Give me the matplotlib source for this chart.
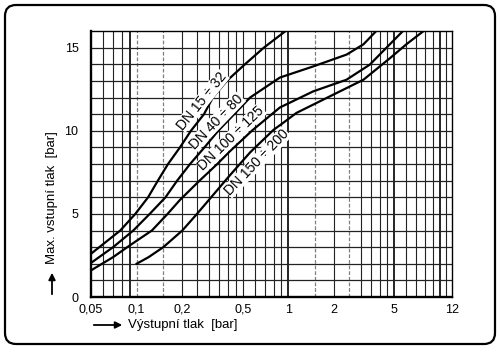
import matplotlib
matplotlib.use("Agg")
import matplotlib.pyplot as plt
from matplotlib.patches import FancyBboxPatch
from matplotlib.transforms import IdentityTransform

plt.rcParams['font.family'] = ['Liberation Sans', 'DejaVu Sans']

# ---- data ----
c1_x = [0.05, 0.078, 0.098, 0.119, 0.138, 0.161, 0.193, 0.228, 0.278, 0.318, 0.393, 0.518, 0.69, 0.96]
c1_y = [2.6, 4, 5, 6, 7, 8, 9, 10, 11, 12, 13, 14, 15, 16]
c2_x = [0.05, 0.07, 0.095, 0.122, 0.155, 0.185, 0.225, 0.28, 0.345, 0.44, 0.56, 0.88, 1.46, 2.42, 3.13, 3.8]
c2_y = [2.05, 3, 4, 5, 6, 7, 8, 9, 10, 11, 12, 13.2, 13.87, 14.58, 15.2, 16]
c3_x = [0.05, 0.07, 0.09, 0.126, 0.16, 0.193, 0.26, 0.34, 0.41, 0.58, 0.88, 1.46, 2.42, 3.45, 4.0, 5.7]
c3_y = [1.6, 2.4, 3.1, 4, 5, 5.84, 7, 8, 8.75, 10.03, 11.4, 12.37, 13.07, 13.98, 14.58, 16]
c4_x = [0.1, 0.12, 0.15, 0.2, 0.25, 0.31, 0.41, 0.56, 0.8, 0.92, 1.13, 1.88, 3.13, 4.7, 6.0, 7.8]
c4_y = [2.0, 2.4, 3.0, 4.0, 5.0, 6.0, 7.3, 8.7, 10.06, 10.46, 11.07, 12.07, 13.07, 14.38, 15.2, 16]

series_names = ["DN 15 ÷ 32", "DN 40 ÷ 80", "DN 100 ÷ 125", "DN 150 ÷ 200"]
label_x = [0.27, 0.335, 0.42, 0.62]
label_y = [11.8, 10.55, 9.55, 8.1]
label_rot = [51, 46, 44, 46]

x_ticks = [0.05, 0.1, 0.2, 0.5, 1, 2, 5, 12]
x_tick_labels = ["0,05", "0,1", "0,2", "0,5", "1", "2", "5", "12"]
y_ticks = [0, 5, 10, 15]
y_tick_labels = ["0", "5", "10", "15"]
v_grid = [0.06, 0.07, 0.08, 0.09, 0.1, 0.15, 0.2, 0.25, 0.3, 0.35, 0.4, 0.45, 0.5,
          0.6, 0.7, 0.8, 0.9, 1, 1.5, 2, 2.5, 3, 3.5, 4, 4.5, 5, 6, 7, 8, 9, 10, 11]
v_grid_light = [0.1, 0.15, 1.5, 2.5]
v_grid_heavy = [0.09, 1, 5, 10]
h_grid = list(range(1, 16))

W, H = 500, 356
fig = plt.figure(figsize=(W / 100, H / 100), dpi=100)
ax = fig.add_axes([91 / W, 1 - 297 / H, (452 - 91) / W, (297 - 31) / H])
ax.set_xscale('log')
ax.set_xlim(0.05, 12)
ax.set_ylim(0, 16)

for v in v_grid:
    if v in v_grid_light:
        ax.axvline(v, color='#808080', lw=0.9, ls=(0, (3, 1.5)), zorder=1)
    elif v in v_grid_heavy:
        ax.axvline(v, color='black', lw=1.2, zorder=1)
    else:
        ax.axvline(v, color='#222222', lw=0.8, zorder=1)
for h in h_grid:
    ax.axhline(h, color='#222222', lw=0.9, zorder=1)

for xs, ys in [(c1_x, c1_y), (c2_x, c2_y), (c3_x, c3_y), (c4_x, c4_y)]:
    ax.plot(xs, ys, color='black', lw=1.6, zorder=3, solid_joinstyle='round')

for name, lx, ly, r in zip(series_names, label_x, label_y, label_rot):
    ax.text(lx, ly, name, rotation=r, ha='center', va='center', fontsize=10,
            rotation_mode='anchor', zorder=4,
            bbox=dict(facecolor='white', edgecolor='none', pad=0.2))

ax.set_xticks(x_ticks)
ax.set_xticklabels(x_tick_labels)
ax.xaxis.set_minor_locator(matplotlib.ticker.NullLocator())
ax.set_yticks(y_ticks)
ax.set_yticklabels(y_tick_labels)
ax.tick_params(axis='both', length=0, labelsize=9)
ax.tick_params(axis='x', pad=5)
ax.tick_params(axis='y', pad=9)
for s in ['left', 'bottom']:
    ax.spines[s].set_linewidth(1.7)
for s in ['top', 'right']:
    ax.spines[s].set_linewidth(1.0)

# axis titles with arrows
ax.annotate('', xy=(125, H - 325), xytext=(91, H - 325), xycoords='figure pixels',
            arrowprops=dict(arrowstyle='-|>', lw=1.3, color='black', mutation_scale=10))
fig.text(128 / W, 1 - 325 / H, 'Výstupní tlak  [bar]', ha='left', va='center', fontsize=9.5)
ax.annotate('', xy=(52, H - 270), xytext=(52, H - 297), xycoords='figure pixels',
            arrowprops=dict(arrowstyle='-|>', lw=1.3, color='black', mutation_scale=10))
fig.text(52 / W, 1 - 264 / H, 'Max. vstupní tlak  [bar]', ha='center', va='bottom',
         rotation=90, fontsize=9.5)

frame = FancyBboxPatch((5, H - 344), 490, 339, boxstyle='round,pad=0,rounding_size=11',
                       transform=IdentityTransform(), fill=False, lw=1.6, edgecolor='black')
fig.patches.append(frame)

fig.savefig('out.png', dpi=100)
